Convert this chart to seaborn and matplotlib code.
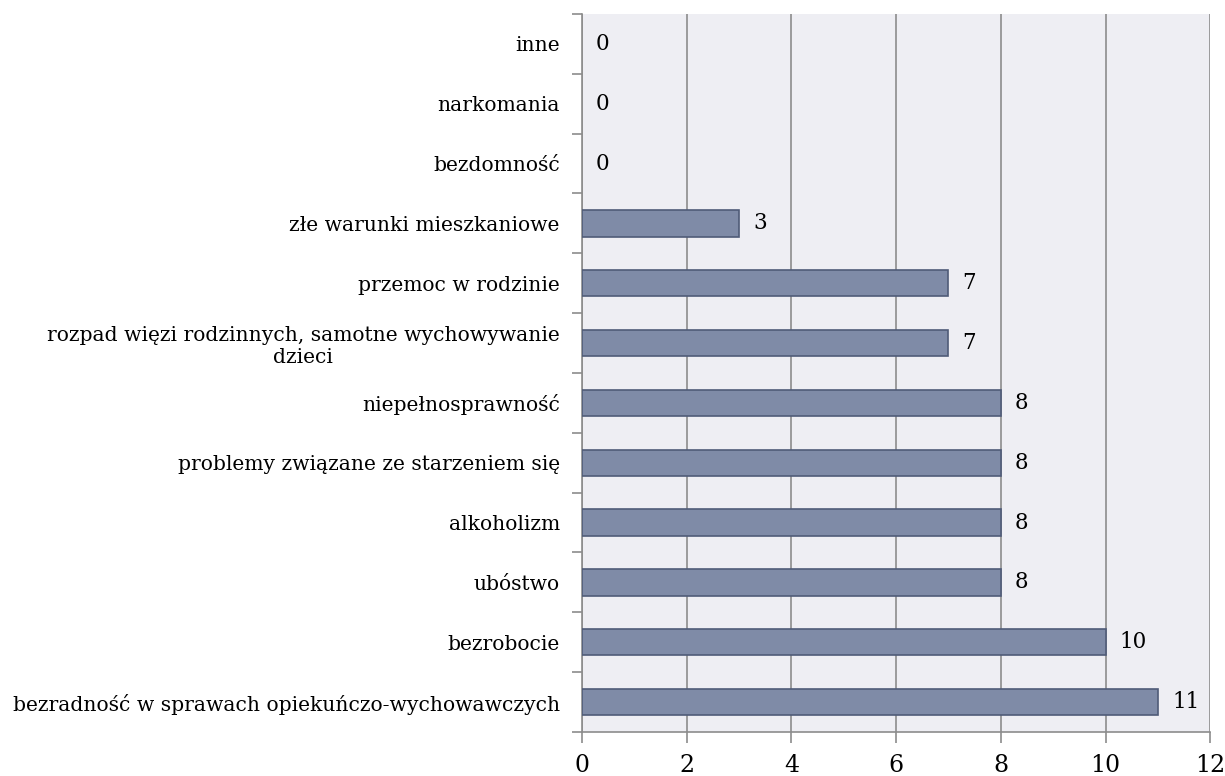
import matplotlib
matplotlib.use("Agg")
import matplotlib.pyplot as plt
import seaborn as sns
import pandas as pd
import numpy as np
from matplotlib.ticker import FixedLocator

categories = [
    "inne",
    "narkomania",
    "bezdomność",
    "złe warunki mieszkaniowe",
    "przemoc w rodzinie",
    "rozpad więzi rodzinnych, samotne wychowywanie\ndzieci",
    "niepełnosprawność",
    "problemy związane ze starzeniem się",
    "alkoholizm",
    "ubóstwo",
    "bezrobocie",
    "bezradność w sprawach opiekuńczo-wychowawczych",
]
values = [0, 0, 0, 3, 7, 7, 8, 8, 8, 8, 10, 11]
x_ticks = [0, 2, 4, 6, 8, 10, 12]

sns.set_theme(style="white")
plt.rcParams["font.family"] = ["DejaVu Serif"]
plt.rcParams["text.color"] = "black"

df = pd.DataFrame({"cat": categories, "val": values})

fig = plt.figure(figsize=(12.25, 7.76), dpi=100)
ax = fig.add_axes([0.475, 0.0567, 0.513, 0.9253])
ax.set_facecolor("#EEEEF3")

sns.barplot(data=df, y="cat", x="val", order=categories, orient="h",
            color="#7F8BA7", edgecolor="#4F5B78", linewidth=1.2,
            width=0.44, saturation=1, ax=ax, zorder=3)

for p in ax.patches:
    if p.get_width() == 0:
        p.set_visible(False)

ax.set_xlim(0, 12)
ax.set_ylim(len(categories) - 0.5, -0.5)
ax.set_xticks(x_ticks)
ax.set_xticklabels([str(t) for t in x_ticks], fontsize=17, color="black")
ax.set_xlabel("")
ax.set_ylabel("")

ax.xaxis.grid(True, color="#8C8C8C", linewidth=1.2, zorder=0)
ax.set_axisbelow(True)

ax.tick_params(axis="y", which="major", length=0, labelsize=14.6, pad=16, labelcolor="black")
ax.yaxis.set_minor_locator(FixedLocator(np.arange(-0.5, len(categories), 1.0)))
ax.tick_params(axis="y", which="minor", length=7, color="#8C8C8C", width=1.2, left=True)
ax.tick_params(axis="x", which="major", length=8, color="#8C8C8C", width=1.2, bottom=True, pad=8)
for lbl in ax.get_yticklabels():
    lbl.set_horizontalalignment("right")
    lbl.set_multialignment("center")

for s in ["top", "right"]:
    ax.spines[s].set_visible(False)
for s in ["left", "bottom"]:
    ax.spines[s].set_visible(True)
    ax.spines[s].set_color("#8C8C8C")
    ax.spines[s].set_linewidth(1.2)

for i, v in enumerate(values):
    ax.text(v + 0.27, i, str(v), va="center", ha="left", fontsize=15.5, color="black", zorder=4)

fig.savefig("out.png", dpi=100)
